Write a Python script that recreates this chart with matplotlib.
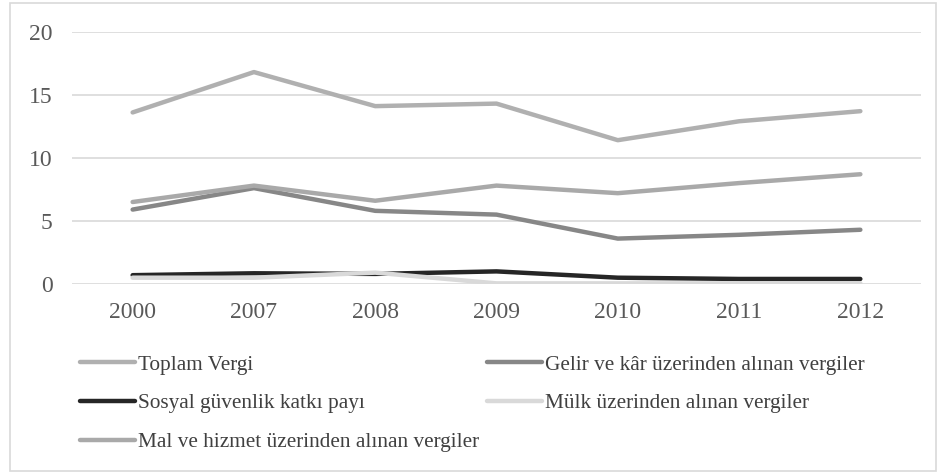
import matplotlib.pyplot as plt
from matplotlib.patches import Rectangle

# Data
years = ["2000", "2007", "2008", "2009", "2010", "2011", "2012"]
toplam = [13.6, 16.8, 14.1, 14.3, 11.4, 12.9, 13.7]
gelir = [5.9, 7.6, 5.8, 5.5, 3.6, 3.9, 4.3]
sosyal = [0.7, 0.85, 0.8, 1.0, 0.5, 0.4, 0.4]
mulk = [0.5, 0.5, 0.9, 0.05, 0.05, 0.05, 0.05]
mal = [6.5, 7.8, 6.6, 7.8, 7.2, 8.0, 8.7]

labels = ["Toplam Vergi",
          "Gelir ve kâr üzerinden alınan vergiler",
          "Sosyal güvenlik katkı payı",
          "Mülk üzerinden alınan vergiler",
          "Mal ve hizmet üzerinden alınan vergiler"]
colors = ["#b0b0b0", "#878787", "#262626", "#d9d9d9", "#a9a9a9"]
series = [toplam, gelir, sosyal, mulk, mal]

plt.rcParams['font.family'] = ['Liberation Serif', 'DejaVu Serif']

W, H = 939, 473
fig = plt.figure(figsize=(W / 100, H / 100), dpi=100)
ax = fig.add_axes([72 / W, 1 - 284 / H, (921 - 72) / W, (284 - 31.7) / H])

x = list(range(len(years)))
lines = []
for vals, lab, col in zip(series, labels, colors):
    ln, = ax.plot(x, vals, color=col, lw=3.2, label=lab, solid_capstyle='round')
    lines.append(ln)

ax.set_xlim(-0.5, len(years) - 0.5)
ax.set_ylim(0, 20)
ax.set_yticks([0, 5, 10, 15, 20])
ax.set_xticks(x)
ax.set_xticklabels(years)
ax.grid(True, axis='y', color='#d9d9d9', lw=1.2)
ax.set_axisbelow(True)
for s in ax.spines.values():
    s.set_visible(False)
ax.tick_params(axis='y', length=0, pad=14, labelsize=17, labelcolor='#595959')
ax.tick_params(axis='x', length=0, pad=13, labelsize=17, labelcolor='#595959')

# legends: two columns placed separately
leg_kw = dict(frameon=False, fontsize=15.3, handlelength=2.6, handletextpad=0.12,
              labelspacing=0.88, borderpad=0, borderaxespad=0, loc='upper left',
              labelcolor='#404040')
leg1 = fig.legend([lines[0], lines[2], lines[4]], [labels[0], labels[2], labels[4]],
                  bbox_to_anchor=(80 / W, 1 - 355 / H), **leg_kw)
leg2 = fig.legend([lines[1], lines[3]], [labels[1], labels[3]],
                  bbox_to_anchor=(487 / W, 1 - 355 / H), **leg_kw)

# outer frame
fig.patches.append(Rectangle((10 / W, 1 - 471 / H), (936 - 10) / W, (471 - 3) / H,
                             transform=fig.transFigure, fill=False,
                             edgecolor='#d9d9d9', lw=1.2))

fig.savefig("out.png", dpi=100)
